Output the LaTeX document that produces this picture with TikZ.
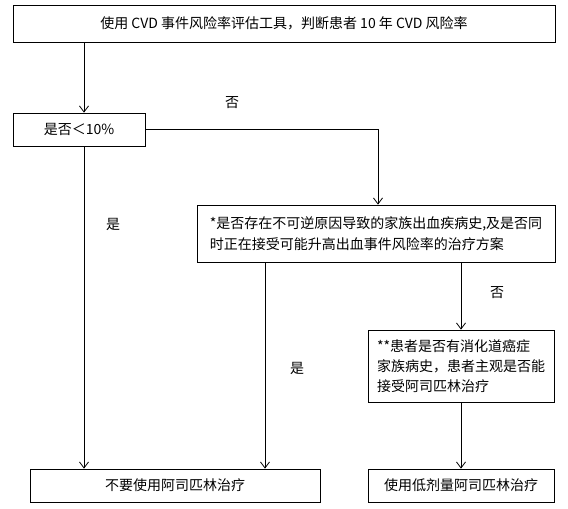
\documentclass[tikz,border=0pt]{standalone}
\usepackage{fontspec}
\usepackage{tikz}
\usetikzlibrary{arrows.meta,positioning}
\newfontfamily\cjk{Noto Sans CJK SC}
\definecolor{FlowLine}{HTML}{000000}

\begin{document}
\begin{tikzpicture}[x=1pt,y=-1pt]
    \tikzset{flowbox/.style={draw=FlowLine,line width=0.8pt,inner sep=3pt,
      font=\cjk\fontsize{14}{20}\selectfont},
      flowlabel/.style={font=\cjk\fontsize{14}{16}\selectfont},
      flowarrow/.style={-{Straight Barb[length=6pt,width=9pt]},FlowLine,line width=0.8pt}}
    \useasboundingbox (0,0) rectangle (568,509);
    \node[flowbox,minimum width=542pt,minimum height=37pt] (tool) at (284,23.5) {使用 CVD 事件风险率评估工具，判断患者 10 年 CVD 风险率};
    \node[flowbox,minimum width=132pt,minimum height=33pt] (risk) at (79,129.5) {是否＜10\%};
    \node[flowbox,minimum width=358pt,minimum height=57pt,align=left,font=\cjk\fontsize{14}{21}\selectfont] (bleed) at (376,233.5) {*是否存在不可逆原因导致的家族出血疾病史,及是否同\\时正在接受可能升高出血事件风险率的治疗方案};
    \node[flowbox,minimum width=186pt,minimum height=72pt,align=left] (cancer) at (461,366) {**患者是否有消化道癌症\\家族病史，患者主观是否能\\接受阿司匹林治疗};
    \node[flowbox,minimum width=290pt,minimum height=33pt] (noasp) at (175,485.5) {不要使用阿司匹林治疗};
    \node[flowbox,minimum width=186pt,minimum height=33pt] (lowasp) at (461,485.5) {使用低剂量阿司匹林治疗};
    % labels
    \node[flowlabel] (no1) at (232,103) {否};
    \node[flowlabel] (yes1) at (113,224) {是};
    \node[flowlabel] (no2) at (497,293) {否};
    \node[flowlabel] (yes2) at (297,368) {是};
    % connectors
    \coordinate (lefttrack) at (84,0);
    \coordinate (midtrack) at (265,0);
    \coordinate (righttrack) at (378,0);
    \draw[flowarrow] (tool.south -| lefttrack) -- (risk.north -| lefttrack);
    \draw[flowarrow] (risk.east) -| (bleed.north -| righttrack);
    \draw[flowarrow] (risk.south -| lefttrack) -- (noasp.north -| lefttrack);
    \draw[flowarrow] (bleed.south -| midtrack) -- (noasp.north -| midtrack);
    \draw[flowarrow] (bleed.south -| cancer) -- (cancer.north);
    \draw[flowarrow] (cancer.south) -- (lowasp.north);
  \end{tikzpicture}
\end{document}
